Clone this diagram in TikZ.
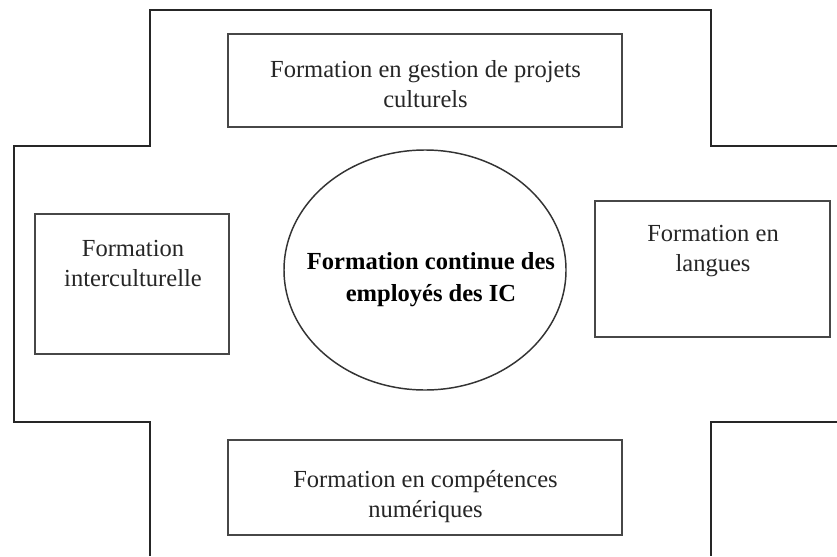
\documentclass[tikz,border=0pt]{standalone}
\usepackage{fontspec}
\setmainfont{Liberation Serif}
\usetikzlibrary{shapes.geometric}
\begin{document}
\begin{tikzpicture}[x=0.75pt,y=-0.75pt,
  frame/.style={line width=1.3pt, draw=black!85},
  box/.style={draw=black!72, line width=1.2pt, rectangle, inner sep=0pt},
  oval/.style={draw=black!80, line width=1.1pt, ellipse, inner sep=0pt},
  txt/.style={align=center, inner sep=0pt, text=black!85, font=\fontsize{18.4}{22.5}\selectfont},
  btxt/.style={align=center, inner sep=0pt, text=black, font=\fontsize{18.4}{24}\selectfont\bfseries}]
\useasboundingbox (0,0) rectangle (837,556);
\fill[white] (0,0) rectangle (837,556);
% outer cross-shaped frame
\coordinate (a1) at (150,556);
\coordinate (a2) at (150,422);
\coordinate (a3) at (14,422);
\coordinate (a4) at (14,146);
\coordinate (a5) at (150,146);
\coordinate (a6) at (150,10);
\coordinate (a7) at (711,10);
\coordinate (a8) at (711,146);
\coordinate (a9) at (837,146);
\coordinate (b1) at (837,422);
\coordinate (b2) at (711,422);
\coordinate (b3) at (711,556);
\draw[frame] (a1) -- (a2) -- (a3) -- (a4) -- (a5) -- (a6) -- (a7) -- (a8) -- (a9);
\draw[frame] (b1) -- (b2) -- (b3);
% boxes
\node[box, minimum width=295.5pt, minimum height=69.75pt] (top) at (425,80.5) {};
\node[box, minimum width=295.5pt, minimum height=71.25pt] (bottom) at (425,487.5) {};
\node[box, minimum width=145.5pt, minimum height=105pt] (left) at (132,284) {};
\node[box, minimum width=176.25pt, minimum height=102pt] (right) at (712.5,269) {};
\node[oval, minimum width=211.5pt, minimum height=180pt] (center) at (425,270) {};
% texts
\node[txt] (ttop) at (425.5,84) {Formation en gestion de projets\\culturels};
\node[txt] (tbottom) at (425.5,496.5) {Formation en compétences\\numériques};
\node[txt] (tleft) at (133,263) {Formation\\interculturelle};
\node[txt] (tright) at (713,251) {Formation en\\langues};
\node[btxt] (tcenter) at (431,280) {Formation continue des\\employés des IC};
\end{tikzpicture}
\end{document}
